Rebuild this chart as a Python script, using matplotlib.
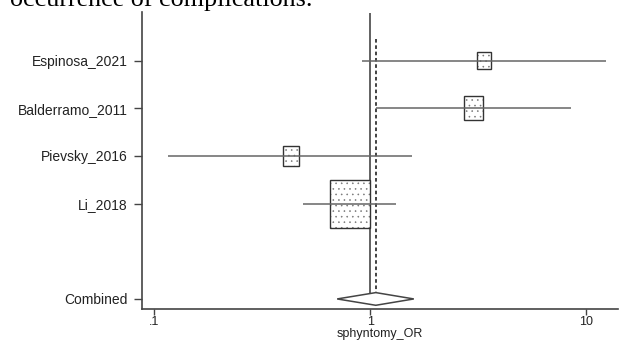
import matplotlib.pyplot as plt
import numpy as np
from matplotlib.patches import Rectangle, Polygon
from matplotlib.ticker import NullLocator

plt.rcParams['font.family'] = ['Liberation Sans', 'DejaVu Sans']
plt.rcParams['hatch.linewidth'] = 0.4

# per-study odds ratios with 95% CI and weights (%)
studies = ["Espinosa_2021", "Balderramo_2011", "Pievsky_2016", "Li_2018"]
or_est = [3.37, 3.00, 0.427, 0.804]
ci_low = [0.916, 1.064, 0.116, 0.489]
ci_high = [12.4, 8.54, 1.567, 1.313]
weights = [8.5, 15.8, 10.4, 65.3]

# pooled estimate
pooled_or = 1.06
pooled_low = 0.702
pooled_high = 1.59

xticks = [0.1, 1, 10]
xticklabels = [".1", "1", "10"]

rows = np.arange(1, len(studies) + 1)
combined_row = 6

fig = plt.figure(figsize=(6.24, 3.41), dpi=100)
fig.text(10 / 624, 1 - 6 / 341, "occurrence of complications.",
         family="Liberation Serif", fontsize=18.8, va="baseline", ha="left")

ax = fig.add_axes([0.228, 0.093, 0.762, 0.872])
ax.set_xscale("log")
ax.set_xlim(0.0878, 14.0)
ax.set_ylim(6.217, -0.02)

# weighted boxes (side ~ sqrt(weight)): dotted fill, then outline
wmax = max(weights)
for y, o, w in zip(rows, or_est, weights):
    s = np.sqrt(w / wmax)
    c = np.log10(o)
    hw = 0.0926 * s
    hh = 0.504 * s
    x0 = 10 ** (c - hw)
    xy = (x0, y - hh)
    bw, bh = 10 ** (c + hw) - x0, 2 * hh
    ax.add_patch(Rectangle(xy, bw, bh, facecolor="white", edgecolor="#777777",
                           lw=0, hatch="...", zorder=2))
    ax.add_patch(Rectangle(xy, bw, bh, facecolor="none", edgecolor="#333333",
                           lw=1.0, zorder=2.5))

# confidence intervals
ax.hlines(rows, ci_low, ci_high, color="#666666", lw=1.1, zorder=3)

# line of no effect and pooled estimate
dh = 0.133
ax.vlines(1, 0, combined_row + dh, color="#555555", lw=1.3, zorder=1)
ax.vlines(pooled_or, 0.55, combined_row - dh, color="#333333", lw=1.3,
          linestyles=(0, (2, 1.5)), zorder=1)

diamond = Polygon([(pooled_low, combined_row), (pooled_or, combined_row - dh),
                   (pooled_high, combined_row), (pooled_or, combined_row + dh)],
                  closed=True, facecolor="white", edgecolor="#444444", lw=1.1,
                  zorder=4)
ax.add_patch(diamond)

ax.set_yticks(list(rows) + [combined_row])
ax.set_yticklabels(studies + ["Combined"])
ax.set_xticks(xticks)
ax.set_xticklabels(xticklabels)
ax.xaxis.set_minor_locator(NullLocator())
ax.set_xlabel("sphyntomy_OR", fontsize=9, labelpad=-0.5, color="#222222")

ax.tick_params(axis="y", length=5.8, width=1, pad=4.5, labelsize=10,
               color="#444444", labelcolor="#222222")
ax.tick_params(axis="x", length=4, width=1, pad=1.0, labelsize=9,
               color="#444444", labelcolor="#222222")

for side in ["top", "right"]:
    ax.spines[side].set_visible(False)
for side in ["left", "bottom"]:
    ax.spines[side].set_color("#444444")
    ax.spines[side].set_linewidth(1.2)

plt.savefig("out.png", dpi=100)
